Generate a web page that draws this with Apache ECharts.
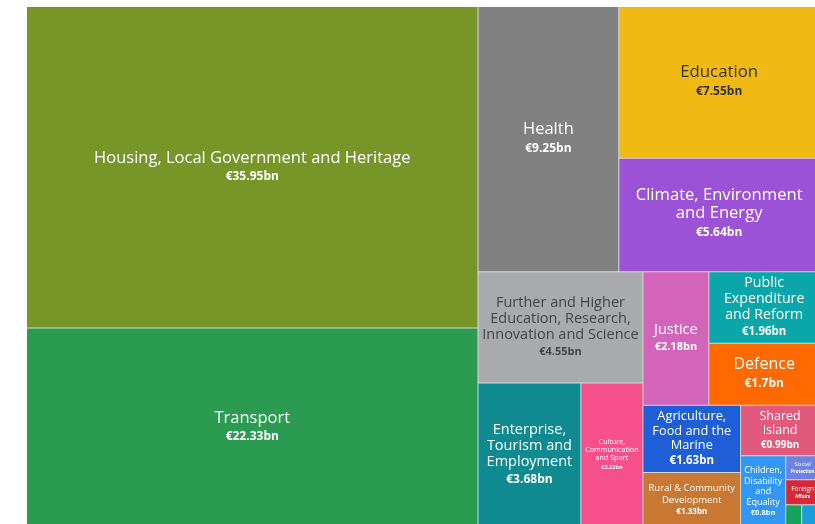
<!DOCTYPE html>
<html>
<head>
<meta charset="utf-8">
<script src="https://cdn.jsdelivr.net/npm/echarts@6/dist/echarts.min.js"></script>
<style>
html,body{margin:0;padding:0;background:#fff;}
#chart{width:815px;height:524px;}
</style>
</head>
<body>
<div id="chart"></div>
<script>
// ---- data ----
const categories = [
  'Housing, Local Government and Heritage',
  'Transport',
  'Health',
  'Education',
  'Climate, Environment and Energy',
  'Further and Higher Education, Research, Innovation and Science',
  'Enterprise, Tourism and Employment',
  'Culture, Communication and Sport',
  'Justice',
  'Public Expenditure and Reform',
  'Defence',
  'Agriculture, Food and the Marine',
  'Rural & Community Development',
  'Shared Island',
  'Children, Disability and Equality',
  'Social Protection',
  'Foreign Affairs',
  'Finance',
  'Taoiseach'
];
const values = [35.95, 22.33, 9.25, 7.55, 5.64, 4.55, 3.68, 2.22, 2.18, 1.96, 1.7, 1.63, 1.33, 0.99, 0.8, 0.2, 0.21, 0.09, 0.1];
const valueLabels = ['€35.95bn','€22.33bn','€9.25bn','€7.55bn','€5.64bn','€4.55bn','€3.68bn','€2.22bn','€2.18bn','€1.96bn','€1.7bn','€1.63bn','€1.33bn','€0.99bn','€0.8bn','','','',''];

// grouping of categories (by index) as they are nested in the chart
const grouping = [
  [0, 1],
  [
    [2, [3, 4]],
    [
      [5, [6, 7]],
      [
        [8, [9, 10]],
        [[11, 12], [13, [14, [15, [16, [17, 18]]]]]]
      ]
    ]
  ]
];

// ---- styles ----
const colors = ['#789628','#2a9b50','#808080','#f0b914','#9b52d7','#a8aaad','#0f8a91','#f5508c','#d264b9','#0aa6aa','#ff6900','#1e5fd7','#c87832','#e15a7d','#3296f5','#6e82e1','#d72837','#18a35c','#1a9cd8'];
const nameLines = {
  4: ['Climate, Environment', 'and Energy'],
  5: ['Further and Higher', 'Education, Research,', 'Innovation and Science'],
  6: ['Enterprise,', 'Tourism and', 'Employment'],
  7: ['Culture,', 'Communication', 'and Sport'],
  9: ['Public', 'Expenditure', 'and Reform'],
  11: ['Agriculture,', 'Food and the', 'Marine'],
  12: ['Rural & Community', 'Development'],
  13: ['Shared', 'Island'],
  14: ['Children,', 'Disability', 'and', 'Equality'],
  15: ['Social'],
  16: ['Foreign']
};
const boldLines = {15: 'Protection', 16: 'Affairs'};
// [name size, name line height, value size, value line height, text color]
const labelStyle = {
  0: [16.5, 18, 12, 18, '#fff'], 1: [16.5, 18, 12, 18, '#fff'], 2: [16.5, 18, 12, 19, '#fff'], 3: [16.8, 19, 12, 20, '#333'],
  4: [16.6, 18, 12, 21, '#fff'], 5: [14.5, 16, 11, 18, '#444'], 6: [14.5, 16, 12, 18, '#fff'], 7: [7.2, 8, 5.5, 10, '#fff'],
  8: [14.5, 17, 11, 18, '#fff'], 9: [14.2, 16, 11.5, 17, '#fff'], 10: [16, 18, 12, 19, '#fff'], 11: [12.8, 14.5, 11.5, 16, '#fff'],
  12: [9.5, 12, 8, 12, '#fff'], 13: [12.5, 14.5, 10, 14, '#fff'], 14: [9, 10.5, 7.5, 10, '#fff'], 15: [6, 7, 4.5, 7, '#fff'], 16: [6.5, 8, 4.5, 7, '#fff'],
  17: [1, 1, 1, 1, '#fff'], 18: [1, 1, 1, 1, '#fff']
};
const FONT = '"Open Sans", "Noto Sans", sans-serif';

function leaf(i, heights) {
  const st = labelStyle[i];
  const lines = nameLines[i] || [categories[i]];
  let text = lines.map(l => '{n|' + l + '}').join('\n');
  let vCount = 0;
  if (boldLines[i]) { text += '\n{v|' + boldLines[i] + '}'; vCount++; }
  if (valueLabels[i]) { text += '\n{v|' + valueLabels[i] + '}'; vCount++; }
  const contentH = lines.length * st[1] + vCount * st[3];
  const h = heights && heights[categories[i]] != null ? heights[categories[i]] : contentH;
  const padTop = Math.max(0, (h - contentH) / 2);
  return {
    name: categories[i],
    value: values[i],
    itemStyle: { color: colors[i] },
    label: {
      show: i < 17,
      position: 'inside',
      align: 'center',
      overflow: 'none',
      padding: [padTop, 0, 0, 0],
      formatter: () => text,
      rich: {
        n: { fontFamily: FONT, fontSize: st[0], lineHeight: st[1], color: st[4], align: 'center' },
        v: { fontFamily: FONT, fontSize: st[2], fontWeight: 'bold', lineHeight: st[3], color: st[4], align: 'center' }
      }
    }
  };
}
function build(g, heights) {
  if (typeof g === 'number') return leaf(g, heights);
  return { name: '', children: g.map(c => build(c, heights)) };
}

const chart = echarts.init(document.getElementById('chart'), null, { renderer: 'canvas' });
function makeOption(heights) {
  return {
    animation: false,
    series: [{
      type: 'treemap',
      left: 27, top: 7, width: 792, height: 520,
      roam: false,
      nodeClick: false,
      sort: false,
      squareRatio: 1,
      visibleMin: 0,
      breadcrumb: { show: false },
      upperLabel: { show: false },
      itemStyle: { borderWidth: 0, gapWidth: 1, borderColor: '#d9d9d9' },
      label: { show: true },
      data: grouping.map(g => build(g, heights))
    }]
  };
}
chart.setOption(makeOption(null));
// read the tile heights computed by the treemap layout to centre labels vertically
const heights = {};
try {
  const tree = chart.getModel().getSeriesByIndex(0).getData().tree;
  tree.eachNode(node => {
    if (!node.children || !node.children.length) {
      const l = node.getLayout();
      if (l) heights[node.name] = l.height;
    }
  });
} catch (e) {}
chart.setOption(makeOption(heights), true);
</script>
</body>
</html>
